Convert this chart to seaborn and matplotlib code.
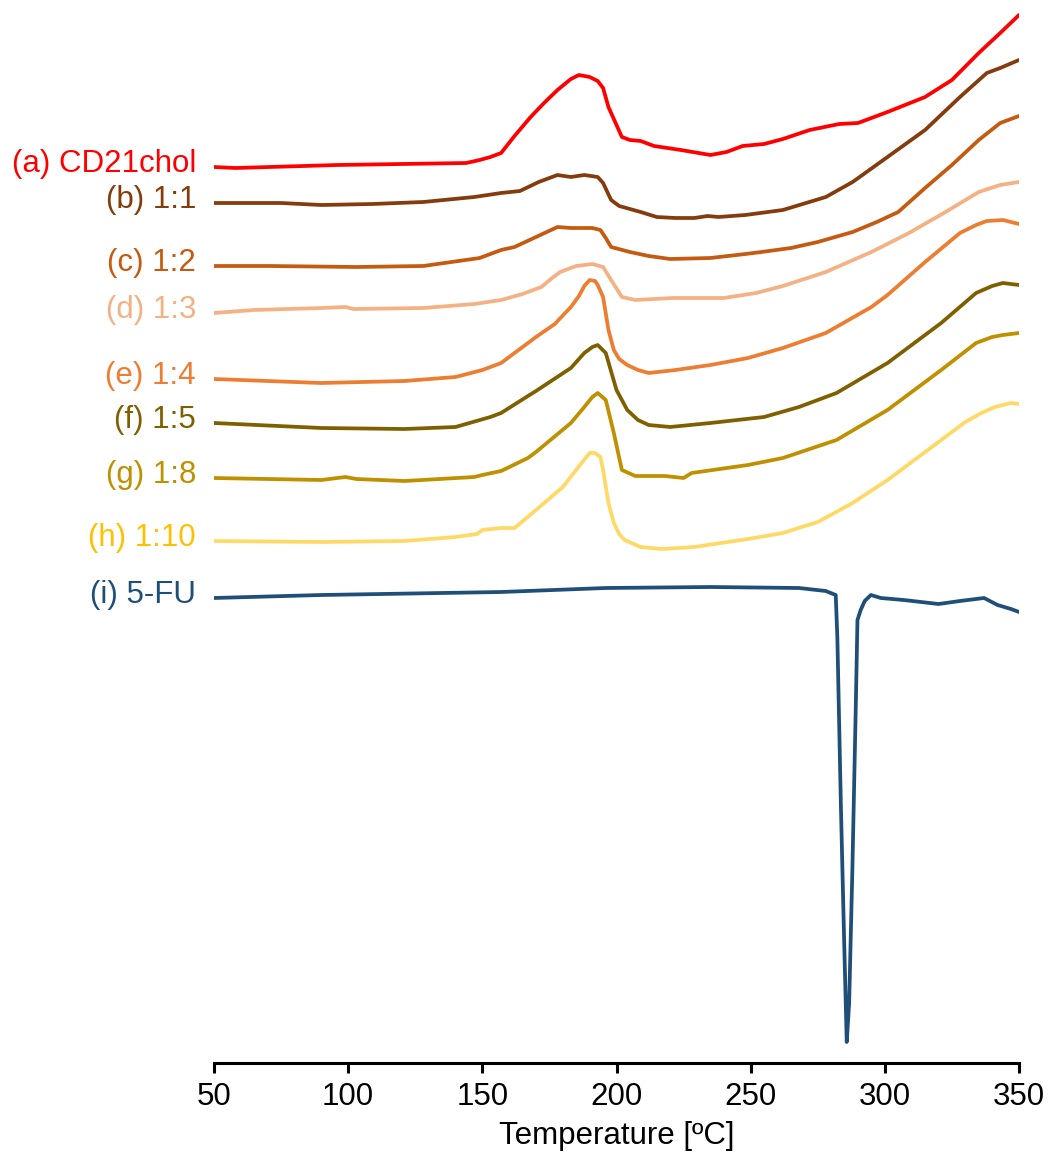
import numpy as np
import pandas as pd
import matplotlib
matplotlib.use("Agg")
import matplotlib.pyplot as plt
import seaborn as sns

# ---- data (heat flow, arbitrary units) ----
t_a = [50, 58, 96, 144, 149, 153, 157, 162, 168, 173, 178, 183, 186, 190, 193, 195, 197, 200, 202, 205, 209, 214, 224, 235, 241, 247, 255, 262, 272, 283, 290, 301, 315, 325, 335, 343, 350]
y_a = [896, 895, 898, 900, 903, 906, 910, 927, 946, 960, 973, 984, 988, 986, 982, 975, 956, 938, 926, 923, 922, 917, 913, 908, 911, 917, 919, 924, 933, 939, 940, 951, 966, 983, 1010, 1030, 1048]

t_b = [50, 75, 90, 109, 128, 147, 157, 164, 171, 178, 183, 188, 193, 195, 198, 201, 205, 209, 215, 222, 229, 234, 238, 248, 262, 278, 288, 301, 315, 328, 338, 343, 350]
y_b = [860, 860, 858, 859, 861, 866, 870, 872, 881, 888, 886, 888, 886, 880, 863, 857, 854, 851, 846, 845, 845, 847, 846, 848, 853, 866, 881, 906, 933, 966, 990, 995, 1003]

t_c = [50, 71, 103, 128, 149, 157, 162, 170, 178, 183, 191, 194, 196, 198, 205, 212, 220, 235, 248, 254, 265, 275, 288, 297, 305, 315, 325, 335, 343, 350]
y_c = [797, 797, 796, 797, 805, 813, 816, 826, 836, 835, 835, 833, 825, 816, 811, 807, 804, 805, 809, 811, 815, 821, 831, 841, 851, 875, 898, 923, 940, 947]

t_d = [50, 65, 90, 99, 102, 128, 147, 157, 165, 172, 176, 179, 185, 191, 195, 198, 202, 207, 221, 240, 252, 262, 278, 295, 309, 322, 335, 343, 350]
y_d = [750, 753, 755, 756, 754, 755, 759, 763, 769, 776, 785, 791, 797, 799, 796, 783, 766, 763, 765, 765, 770, 777, 791, 811, 830, 850, 871, 878, 881]

t_e = [50, 90, 121, 140, 150, 157, 160, 167, 170, 177, 183, 186, 188, 190, 192, 193, 195, 197, 199, 201, 204, 208, 212, 222, 235, 249, 262, 278, 295, 301, 315, 328, 334, 338, 344, 350]
y_e = [684, 680, 682, 686, 693, 700, 706, 720, 726, 739, 756, 767, 777, 783, 782, 778, 766, 733, 713, 704, 698, 693, 690, 693, 698, 705, 715, 730, 756, 768, 801, 830, 838, 842, 843, 839]

t_f = [50, 90, 121, 140, 153, 157, 167, 170, 183, 188, 191, 193, 196, 200, 204, 208, 212, 220, 235, 255, 268, 282, 301, 321, 334, 340, 344, 350]
y_f = [640, 635, 634, 636, 646, 650, 667, 672, 695, 710, 716, 718, 710, 673, 653, 643, 638, 636, 640, 646, 656, 670, 700, 740, 770, 777, 780, 778]

t_g = [50, 90, 99, 103, 121, 147, 150, 157, 167, 170, 183, 188, 191, 193, 196, 199, 202, 207, 218, 225, 228, 249, 262, 282, 301, 321, 334, 340, 344, 350]
y_g = [585, 583, 586, 584, 582, 586, 588, 592, 605, 611, 640, 656, 666, 670, 663, 630, 593, 587, 587, 585, 590, 598, 605, 623, 653, 693, 720, 726, 728, 730]

t_h = [50, 90, 121, 140, 148, 150, 157, 162, 170, 180, 187, 190, 192, 194, 195, 197, 199, 201, 203, 209, 217, 229, 249, 262, 275, 288, 301, 321, 330, 336, 341, 347, 350]
y_h = [522, 521, 522, 526, 529, 533, 535, 535, 553, 576, 600, 610, 610, 606, 593, 560, 540, 529, 523, 516, 514, 516, 524, 530, 541, 560, 583, 623, 641, 650, 656, 660, 659]

t_i = [50, 90, 157, 196, 235, 268, 278, 281.7, 282.3, 283.6, 284.8, 285.8, 286.7, 287.9, 289.2, 289.8, 291, 292.5, 294.8, 298.5, 307, 320, 328, 337, 342, 347, 350]
y_i = [465, 468, 471, 475, 476, 475, 472, 468, 426, 260, 126, 21, 60, 193, 360, 443, 453, 462, 468, 465, 463, 459, 462, 465, 458, 454, 451]

labels = ["(a) CD21chol", "(b) 1:1", "(c) 1:2", "(d) 1:3", "(e) 1:4",
          "(f) 1:5", "(g) 1:8", "(h) 1:10", "(i) 5-FU"]
x_ticks = [50, 100, 150, 200, 250, 300, 350]
x_label = "Temperature [ºC]"

line_colors = ["#FF0000", "#843C0C", "#C55A11", "#F4B183", "#ED7D31",
               "#7F6000", "#BF9000", "#FFD966", "#1F4E79"]
text_colors = ["#FF0000", "#843C0C", "#C55A11", "#F4B183", "#ED7D31",
               "#7F6000", "#BF9000", "#FFC000", "#1F4E79"]

series = [(t_a, y_a), (t_b, y_b), (t_c, y_c), (t_d, y_d), (t_e, y_e),
          (t_f, y_f), (t_g, y_g), (t_h, y_h), (t_i, y_i)]

# ---- plot ----
sns.set_theme(style="white")
plt.rcParams["font.family"] = ["Liberation Sans", "DejaVu Sans"]

fig = plt.figure(figsize=(10.52, 11.65), dpi=100)
ax = fig.add_axes([214 / 1052, 1 - 1063 / 1165, (1019 - 214) / 1052, (1063 - 10) / 1165])

for (t, y), lab, lc, tc in zip(series, labels, line_colors, text_colors):
    df = pd.DataFrame({"T": t, "HF": y})
    sns.lineplot(data=df, x="T", y="HF", ax=ax, color=lc, linewidth=2.7,
                 estimator=None, sort=False)
    ax.lines[-1].set_solid_joinstyle("round")
    ax.lines[-1].set_solid_capstyle("round")
    ax.annotate(lab, xy=(t[0], y[0]), xytext=(-13, 2), textcoords="offset points",
                ha="right", va="center", fontsize=22.5, color=tc,
                annotation_clip=False)

ax.set_xlim(50, 350)
ax.set_ylim(0, 1053)
ax.set_xticks(x_ticks)
ax.set_xticklabels([str(v) for v in x_ticks])
ax.set_yticks([])
ax.set_xlabel(x_label, fontsize=22.5, labelpad=6, color="#000000")
ax.set_ylabel("")
for side in ["top", "right", "left"]:
    ax.spines[side].set_visible(False)
ax.spines["bottom"].set_color("black")
ax.spines["bottom"].set_linewidth(2.2)
ax.tick_params(axis="x", direction="out", length=7, width=2.2, color="black",
               labelsize=22.5, pad=7, bottom=True, labelcolor="black")
ax.set_facecolor("white")
fig.patch.set_facecolor("white")

fig.savefig("out.png", dpi=100)
